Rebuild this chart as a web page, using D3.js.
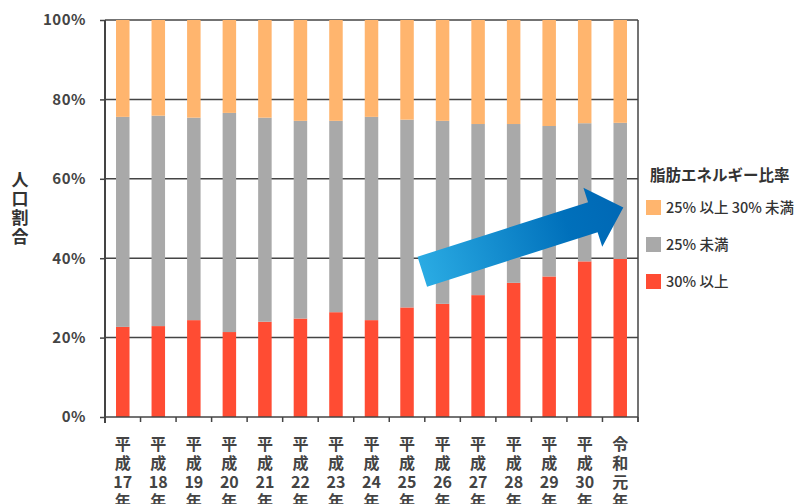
<!DOCTYPE html>
<html>
<head>
<meta charset="utf-8">
<script src="https://cdn.jsdelivr.net/npm/d3@7"></script>
<style>
  html, body { margin: 0; padding: 0; background: #fff; }
  svg { display: block; font-family: "Noto Sans CJK JP", "Noto Sans", sans-serif; }
</style>
</head>
<body>
<svg id="chart" width="804" height="504"></svg>
<script>
// Survey years
const categories = ["平成17年", "平成18年", "平成19年", "平成20年", "平成21年", "平成22年", "平成23年",
  "平成24年", "平成25年", "平成26年", "平成27年", "平成28年", "平成29年", "平成30年", "令和元年"];

// Share of people (%) by fat energy ratio, stacked bottom to top
const over30 = [22.7, 22.9, 24.4, 21.4, 24.0, 24.8, 26.4, 24.4, 27.6, 28.5, 30.7, 33.8, 35.4, 39.2, 39.8];
const under25 = [52.9, 53.0, 51.0, 55.2, 51.4, 49.8, 48.2, 51.2, 47.3, 46.1, 43.1, 40.0, 37.9, 34.8, 34.3];
const from25to30 = [24.4, 24.1, 24.6, 23.4, 24.6, 25.4, 25.4, 24.4, 25.1, 25.4, 26.2, 26.2, 26.7, 26.0, 25.9];

const yTicks = [0, 20, 40, 60, 80, 100];
const seriesNames = ["30% 以上", "25% 未満", "25% 以上 30% 未満"];
const legendTitle = "脂肪エネルギー比率";
const yTitle = "人口割合";

const colors = {
  "30% 以上": "#ff4c33",
  "25% 未満": "#a9a9a9",
  "25% 以上 30% 未満": "#ffb56e"
};

const table = categories.map((c, i) => ({
  year: c,
  "30% 以上": over30[i],
  "25% 未満": under25[i],
  "25% 以上 30% 未満": from25to30[i]
}));

const svg = d3.select("#chart");
const plotLeft = 105, plotRight = 638, plotTop = 20, plotBottom = 417;
const ink = "#444";

const x = d3.scaleBand().domain(categories).range([plotLeft, plotRight]).paddingInner(0.62).paddingOuter(0.31);
const y = d3.scaleLinear().domain([0, 100]).range([plotBottom, plotTop]);

// Horizontal gridlines
svg.append("g").selectAll("line").data(yTicks.filter(t => t > 0)).join("line")
  .attr("x1", plotLeft).attr("x2", plotRight)
  .attr("y1", d => y(d)).attr("y2", d => y(d))
  .attr("stroke", ink).attr("stroke-width", 1.5);

// Right border
svg.append("line").attr("x1", plotRight).attr("x2", plotRight).attr("y1", y(100)).attr("y2", plotBottom + 5)
  .attr("stroke", ink).attr("stroke-width", 1.5);

// Stacked bars
const stack = d3.stack().keys(seriesNames)(table);
svg.append("g").selectAll("g").data(stack).join("g")
  .attr("fill", d => colors[d.key])
  .selectAll("rect").data(d => d).join("rect")
  .attr("x", d => x(d.data.year))
  .attr("width", x.bandwidth())
  .attr("y", d => y(d[1]))
  .attr("height", d => y(d[0]) - y(d[1]));

// Y axis
const yAxis = svg.append("g").attr("transform", `translate(${plotLeft},0)`)
  .call(d3.axisLeft(y).tickValues(yTicks).tickFormat(d => d + "%").tickSize(5).tickPadding(14));
yAxis.select(".domain").attr("stroke", ink).attr("stroke-width", 2).attr("d", `M0,${plotTop}V${plotBottom + 6}`);
yAxis.selectAll(".tick line").attr("stroke", ink).attr("stroke-width", 1.5);
yAxis.selectAll(".tick text").attr("fill", ink).attr("font-size", 15).attr("font-weight", 700)
  .attr("font-family", "'Noto Sans CJK JP', sans-serif").style("letter-spacing", "0.5px");

// X axis: ticks sit on the band boundaries
const edges = d3.range(categories.length + 1).map(i => plotLeft + i * x.step());
const xAxisG = svg.append("g");
xAxisG.append("line").attr("x1", plotLeft).attr("x2", plotRight).attr("y1", plotBottom).attr("y2", plotBottom)
  .attr("stroke", ink).attr("stroke-width", 1.5);
xAxisG.selectAll("line.tick").data(edges.slice(1)).join("line").attr("class", "tick")
  .attr("x1", d => d).attr("x2", d => d).attr("y1", plotBottom).attr("y2", plotBottom + 5)
  .attr("stroke", ink).attr("stroke-width", 1.5);

// Category labels stacked vertically
const labels = xAxisG.selectAll("text").data(categories).join("text")
  .attr("text-anchor", "middle")
  .attr("fill", ink).attr("font-size", 16).attr("font-weight", 700)
  .attr("transform", d => `translate(${x(d) + x.bandwidth() / 2},0)`);
labels.selectAll("tspan").data(d => d.match(/\d+|./g)).join("tspan")
  .attr("x", 0).attr("y", (d, i) => 450 + i * 19)
  .text(d => d);

// Y axis title, one character per line
svg.append("text").attr("text-anchor", "middle").attr("fill", "#333")
  .attr("font-size", 17).attr("font-weight", 700)
  .selectAll("tspan").data(Array.from(yTitle)).join("tspan")
  .attr("x", 20).attr("y", (d, i) => 186 + i * 19).text(d => d);

// Trend arrow
const defs = svg.append("defs");
const L = 211, shaftW = 15.7, headW = 31, headL = 32;
const grad = defs.append("linearGradient").attr("id", "arrowGrad")
  .attr("gradientUnits", "userSpaceOnUse").attr("x1", 0).attr("y1", 0).attr("x2", L).attr("y2", 0);
grad.append("stop").attr("offset", 0).attr("stop-color", "#2aabe3");
grad.append("stop").attr("offset", 0.72).attr("stop-color", "#0070bb");
grad.append("stop").attr("offset", 1).attr("stop-color", "#0068b5");
const arrowPts = [[0, -shaftW], [L - headL, -shaftW], [L - headL, -headW], [L, 0],
  [L - headL, headW], [L - headL, shaftW], [0, shaftW]];
svg.append("path")
  .attr("d", d3.line()(arrowPts) + "Z")
  .attr("fill", "url(#arrowGrad)")
  .attr("transform", "translate(422.3,271.7) rotate(-17.7)");

// Legend
const legend = svg.append("g");
legend.append("text").attr("x", 650).attr("y", 181).attr("fill", "#333")
  .attr("font-size", 15.5).attr("font-weight", 700).text(legendTitle);
const legendOrder = ["25% 以上 30% 未満", "25% 未満", "30% 以上"];
const items = legend.selectAll("g.item").data(legendOrder).join("g").attr("class", "item")
  .attr("transform", (d, i) => `translate(646,${200 + i * 37})`);
items.append("rect").attr("width", 15).attr("height", 15).attr("fill", d => colors[d]);
items.append("text").attr("x", 20).attr("y", 13).attr("fill", "#333")
  .attr("font-size", 14.5).attr("font-weight", 500).text(d => d);
</script>
</body>
</html>
